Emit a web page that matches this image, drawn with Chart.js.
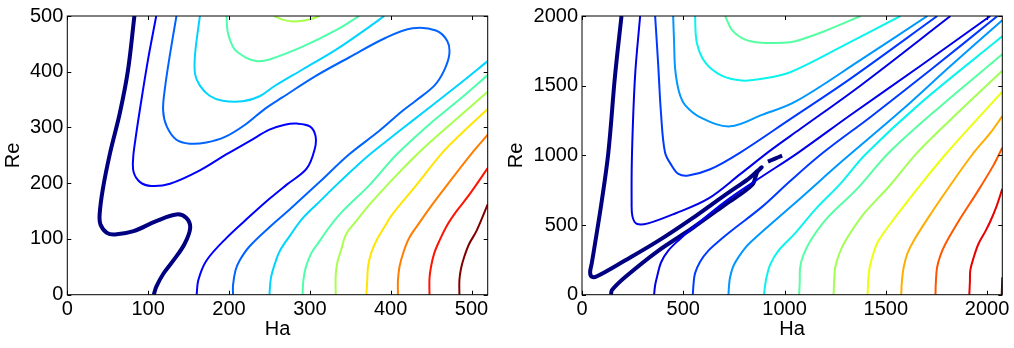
<!DOCTYPE html>
<html>
<head>
<meta charset="utf-8">
<script src="https://cdn.jsdelivr.net/npm/chart.js@4.4.1/dist/chart.umd.min.js"></script>
<style>
    html, body { margin: 0; padding: 0; background: #fff; }
    body { width: 1014px; height: 348px; position: relative; overflow: hidden; }
    .panel { position: absolute; top: 0; height: 348px; }
    #leftPanel { left: 0; width: 506px; }
    #rightPanel { left: 504px; width: 510px; }
</style>
</head>
<body>
<div class="panel" id="leftPanel"><canvas id="leftChart"></canvas></div>
<div class="panel" id="rightPanel"><canvas id="rightChart"></canvas></div>
<script>
// Left panel contours, [Ha, Re]
const leftZero = [[83,500],[75,402],[65,326],[53,255],[44,190],[40,144],[41,126],[49,111],[59,108],[82,114],[110,132],[135,144],[147,138],[152,120],[145,91],[131,61],[119,38],[110,14],[107,0]];
const left1 = [[110,500],[100,423],[90,334],[84,276],[81.5,246],[82,220],[90,202],[104,195],[127,199],[164,223],[197,252],[226,276],[250,296],[269,305],[284,307],[300,302],[307,285],[306,261],[296,226],[271,197],[250,172],[226,141],[197,102],[172,61],[162,26],[160,0]];
const left2 = [[135,500],[127,431],[121,373],[118.5,331],[123,302],[135,278],[151.5,271],[172,273],[195,283],[219,304],[244,333],[266,354],[308,393],[349,426],[394,461],[427,478],[456,474],[470,455],[472.5,431],[466,402],[454,375],[431,348],[414,329],[386,294],[348,251],[312,202],[275,153],[250,121],[225,86],[213,61],[208,43.5],[205,17],[205,0]];
const left3a = [[164,500],[158,431],[158,396],[164,375],[176,357],[192,348],[217,347],[238,356],[256,374],[291,404],[333,440],[374,481],[392,500]];
const left3b = [[250,0],[252,31],[258,61],[263,79],[275,105],[291,137],[312,167],[333,197],[355,227],[377,255],[411,294],[448,336],[485,378],[520,419]];
const left4a = [[197,500],[198,475],[201,458],[207,440],[221.5,425],[235,419],[250,422],[291,445],[333,475],[361,500]];
const left4b = [[291,0],[292,26],[295,49],[302,75],[312,96],[324,121],[340,149],[374,197],[407,251],[448,306],[485,350],[520,394]];
const left5a = [[256,500],[265,494],[279,490],[293.5,492],[306,496.5],[312,500]];
const left5b = [[332,0],[332,35],[334,58],[339,82],[345,109],[359,135],[374,162],[407,214],[435,255],[472.5,304],[520,364]];
const left6 = [[370,0],[371,26],[372,51],[376,75],[382,96],[392,121],[402,144],[432,197],[464,255],[491,294],[520,333]];
const left7 = [[409,0],[409,26],[411,51],[416,77],[423,102],[435,128],[448,155],[472.5,202],[501,255],[520,287]];
const left8 = [[448,0],[448,29],[450,51],[454,75],[460,96],[470,125],[481,149],[497,179],[520,227]];
const left9 = [[485,0],[485,26],[487,47],[491,68],[497,91],[506,114],[520,162]];

// Right panel contours, [Ha, Re]
const rightZero = [[195,2000],[163,1570],[130,1019],[97,667],[64,364],[48,224],[40,160],[49,128],[74,132],[212,245],[376,386],[544,548],[707,717],[820,830],[870,893],[887,914],[865,879],[840,788],[707,647],[544,477],[376,315],[212,125],[148,33],[143,0]];
const rightZeroDash = [[918,955],[950,975],[988,998]];
const rightUp1 = [[287,2000],[262,1570],[247,1020],[245,667],[249,562],[270,509],[326,512],[460,583],[623,689],[781,865],[929,1034],[1077,1189],[1374,1500],[1819,2000]];
const rightUp2 = [[361,2000],[376,1655],[390,1302],[410,1020],[443,926],[476,867],[525,856],[633,900],[781,1020],[1028,1260],[1324,1549],[1754,2000]];
const rightUp3 = [[450,2000],[455,1796],[460,1619],[479,1457],[509,1361],[592,1267],[732,1208],[888,1290],[1053,1385],[1374,1683],[1705,2000]];
const rightUp4 = [[558,2000],[567,1808],[608,1667],[690,1572],[789,1537],[888,1549],[1028,1596],[1300,1794],[1572,2000]];
const rightUp5 = [[707,2000],[740,1901],[806,1831],[888,1808],[987,1808],[1053,1819],[1193,1889],[1375,2000]];
const rightLow1 = [[356,0],[361,68],[371,132],[390,231],[425,315],[484,400],[544,477],[707,668],[870,830],[1068,1020],[1324,1288],[1670,1641],[2016,2000]];
const rightLow2 = [[547,0],[551,82],[558,153],[583,237],[623,315],[682,393],[741,463],[890,632],[1028,816],[1191,1020],[1423,1274],[1720,1612],[2051,2000]];
const rightLow3 = [[723,0],[726,68],[731,125],[746,202],[771,266],[810,343],[855,407],[954,534],[1076,689],[1289,964],[1572,1316],[1819,1641],[2075,1970]];
const rightLow4 = [[899,0],[904,68],[912,132],[929,216],[969,315],[1053,442],[1151,611],[1275,795],[1399,1006],[1670,1373],[2075,1854]];
const rightLow5 = [[1072,0],[1075,90],[1077,195],[1092,280],[1127,386],[1209,548],[1358,759],[1516,1020],[1763,1344],[2075,1725]];
const rightLow6 = [[1242,0],[1245,104],[1250,195],[1270,294],[1300,386],[1389,576],[1522,787],[1655,1020],[1868,1323],[2075,1607]];
const rightLow7 = [[1410,0],[1413,104],[1420,195],[1438,294],[1463,386],[1557,576],[1670,787],[1794,1006],[1942,1246],[2075,1457]];
const rightLow8 = [[1576,0],[1579,90],[1588,195],[1606,294],[1637,386],[1720,576],[1819,787],[1927,1006],[2016,1161],[2075,1281]];
const rightLow9 = [[1745,0],[1747,90],[1753,195],[1769,280],[1794,364],[1868,548],[1952,738],[2031,928],[2075,1055]];
const rightLow10 = [[1912,0],[1915,90],[1917,174],[1932,259],[1957,364],[1992,456],[2016,527],[2046,632],[2075,759]];
const rightLow11 = [[2072,0],[2075,125]];

// Axis ranges and tick labels
const leftHaMax = 520, leftReMax = 500;
const leftHaTicks = [0, 100, 200, 300, 400, 500];
const leftReTicks = [0, 100, 200, 300, 400, 500];
const rightHaMax = 2075, rightReMax = 2000;
const rightHaTicks = [0, 500, 1000, 1500, 2000];
const rightReTicks = [0, 500, 1000, 1500, 2000];

// jet colours per contour level
const leftColors = ['#000080','#0000ff','#0063ff','#00d4ff','#4effa9','#a9ff4e','#ffe500','#ff7d00','#ff1400','#800000'];
const rightColors = ['#000080','#0000e9','#003aff','#0097ff','#0bf3ec','#56ffa1','#a1ff56','#ecff0b','#ffad00','#ff5700','#e90000','#800000'];

const FONT = { family: '"Liberation Sans", Arial, sans-serif', size: 20 };

function contour(points, color, width) {
    return {
        data: points.map(p => ({ x: p[0], y: p[1] })),
        showLine: true,
        borderColor: color,
        borderWidth: width,
        pointRadius: 0,
        pointHoverRadius: 0,
        fill: false,
        tension: 0.35
    };
}

// Frame and inward tick marks like matplotlib
const frameTicks = {
    id: 'frameTicks',
    afterDatasetsDraw(chart) {
        const { ctx, chartArea: a, scales } = chart;
        ctx.save();
        ctx.strokeStyle = '#000';
        ctx.lineWidth = 1;
        ctx.beginPath();
        scales.x.ticks.forEach(t => {
            const px = Math.round(scales.x.getPixelForValue(t.value)) + 0.5;
            ctx.moveTo(px, a.bottom); ctx.lineTo(px, a.bottom - 4);
            ctx.moveTo(px, a.top); ctx.lineTo(px, a.top + 4);
        });
        scales.y.ticks.forEach(t => {
            const py = Math.round(scales.y.getPixelForValue(t.value)) + 0.5;
            ctx.moveTo(a.left, py); ctx.lineTo(a.left + 4, py);
            ctx.moveTo(a.right, py); ctx.lineTo(a.right - 4, py);
        });
        ctx.stroke();
        ctx.strokeRect(a.left, a.top, a.right - a.left, a.bottom - a.top);
        ctx.restore();
    }
};

function makeOptions(haMax, reMax, haTicks, reTicks, yWidth, padRight, reTitlePad) {
    return {
        responsive: true,
        maintainAspectRatio: false,
        animation: false,
        layout: { padding: { top: 11, right: padRight, bottom: 0, left: 0 } },
        plugins: { legend: { display: false }, tooltip: { enabled: false } },
        scales: {
            x: {
                type: 'linear',
                min: 0,
                max: haMax,
                afterBuildTicks: scale => { scale.ticks = haTicks.map(v => ({ value: v })); },
                afterFit: scale => { scale.height = 53.3; },
                ticks: { font: FONT, color: '#000', padding: 2.5, maxRotation: 0, includeBounds: false, callback: v => String(v) },
                grid: { display: false, drawTicks: false },
                border: { display: false },
                title: { display: true, text: 'Ha', font: FONT, color: '#000', padding: { top: 0, bottom: 7 } }
            },
            y: {
                type: 'linear',
                min: 0,
                max: reMax,
                afterBuildTicks: scale => { scale.ticks = reTicks.map(v => ({ value: v })); },
                afterFit: scale => { scale.width = yWidth; },
                ticks: { font: FONT, color: '#000', padding: 4, includeBounds: false, callback: v => String(v) },
                grid: { display: false, drawTicks: false },
                border: { display: false },
                title: { display: true, text: 'Re', font: FONT, color: '#000', padding: { top: reTitlePad, bottom: 0 } }
            }
        }
    };
}

// Left panel
new Chart(document.getElementById('leftChart'), {
    type: 'scatter',
    data: {
        datasets: [
            contour(left1, leftColors[1], 2),
            contour(left2, leftColors[2], 2),
            contour(left3a, leftColors[3], 2),
            contour(left3b, leftColors[3], 2),
            contour(left4a, leftColors[4], 2),
            contour(left4b, leftColors[4], 2),
            contour(left5a, leftColors[5], 2),
            contour(left5b, leftColors[5], 2),
            contour(left6, leftColors[6], 2),
            contour(left7, leftColors[7], 2),
            contour(left8, leftColors[8], 2),
            contour(left9, leftColors[9], 2),
            contour(leftZero, leftColors[0], 4)
        ]
    },
    options: makeOptions(leftHaMax, leftReMax, leftHaTicks, leftReTicks, 67.3, 18.3, 1.7),
    plugins: [frameTicks]
});

// Right panel
new Chart(document.getElementById('rightChart'), {
    type: 'scatter',
    data: {
        datasets: [
            contour(rightUp1, rightColors[1], 2),
            contour(rightUp2, rightColors[2], 2),
            contour(rightUp3, rightColors[3], 2),
            contour(rightUp4, rightColors[4], 2),
            contour(rightUp5, rightColors[5], 2),
            contour(rightLow1, rightColors[1], 2),
            contour(rightLow2, rightColors[2], 2),
            contour(rightLow3, rightColors[3], 2),
            contour(rightLow4, rightColors[4], 2),
            contour(rightLow5, rightColors[5], 2),
            contour(rightLow6, rightColors[6], 2),
            contour(rightLow7, rightColors[7], 2),
            contour(rightLow8, rightColors[8], 2),
            contour(rightLow9, rightColors[9], 2),
            contour(rightLow10, rightColors[10], 2),
            contour(rightLow11, rightColors[11], 2),
            contour(rightZero, rightColors[0], 4),
            contour(rightZeroDash, rightColors[0], 4)
        ]
    },
    options: makeOptions(rightHaMax, rightReMax, rightHaTicks, rightReTicks, 78, 11.7, 0.7),
    plugins: [frameTicks]
});
</script>
</body>
</html>
